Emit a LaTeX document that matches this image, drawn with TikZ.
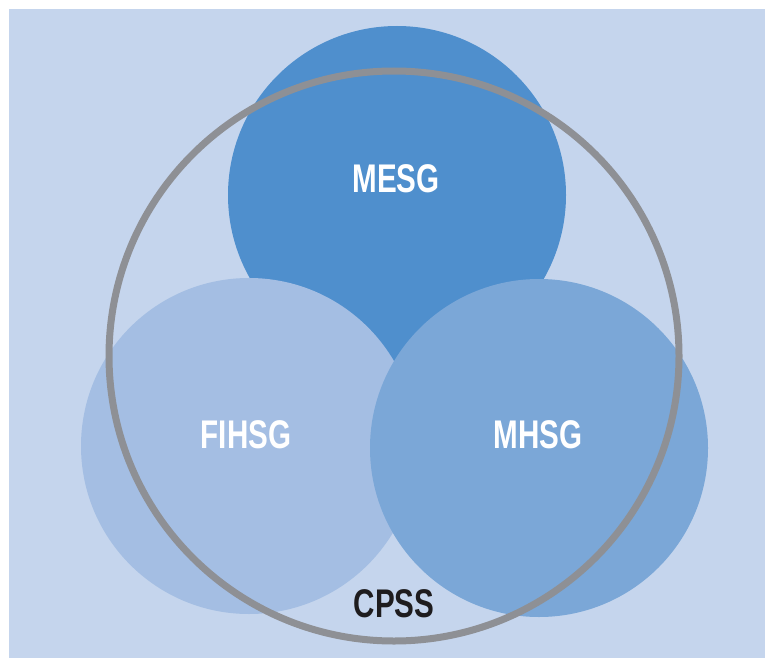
\documentclass[tikz,border=0pt]{standalone}
\usepackage{fontspec}
\setmainfont{Liberation Sans}[FakeStretch=0.74]
\usepackage{tikz}
\usetikzlibrary{positioning}
\definecolor{panelC}{RGB}{197,213,237}
\definecolor{mesgC}{RGB}{79,143,205}
\definecolor{fihsgC}{RGB}{164,190,227}
\definecolor{mhsgC}{RGB}{123,167,215}
\definecolor{ringC}{RGB}{142,144,149}
\definecolor{inkC}{RGB}{30,28,30}

\begin{document}
\begin{tikzpicture}[x=1pt,y=-1pt,
    grplabel/.style={text=white,font=\bfseries\fontsize{40}{44}\selectfont,inner sep=0pt},
    outerlabel/.style={text=inkC,font=\bfseries\fontsize{40}{44}\selectfont,inner sep=0pt}]
  \useasboundingbox (0,0) rectangle (765,658);
  \fill[panelC] (9,9) rectangle (765,658);
  % the three study groups
  \fill[mesgC] (397,195) circle (169);
  \fill[fihsgC] (249,446) circle (168);
  \fill[mhsgC] (539,448) circle (169);
  % umbrella study
  \draw[ringC,line width=7] (394,356) circle (285);
  \node[grplabel] (mesg) at (396,179) {MESG};
  \node[grplabel] (fihsg) at (246,435) {FIHSG};
  \node[grplabel] (mhsg) at (538,435) {MHSG};
  \node[outerlabel] (cpss) at (394,604) {CPSS};
\end{tikzpicture}
\end{document}
